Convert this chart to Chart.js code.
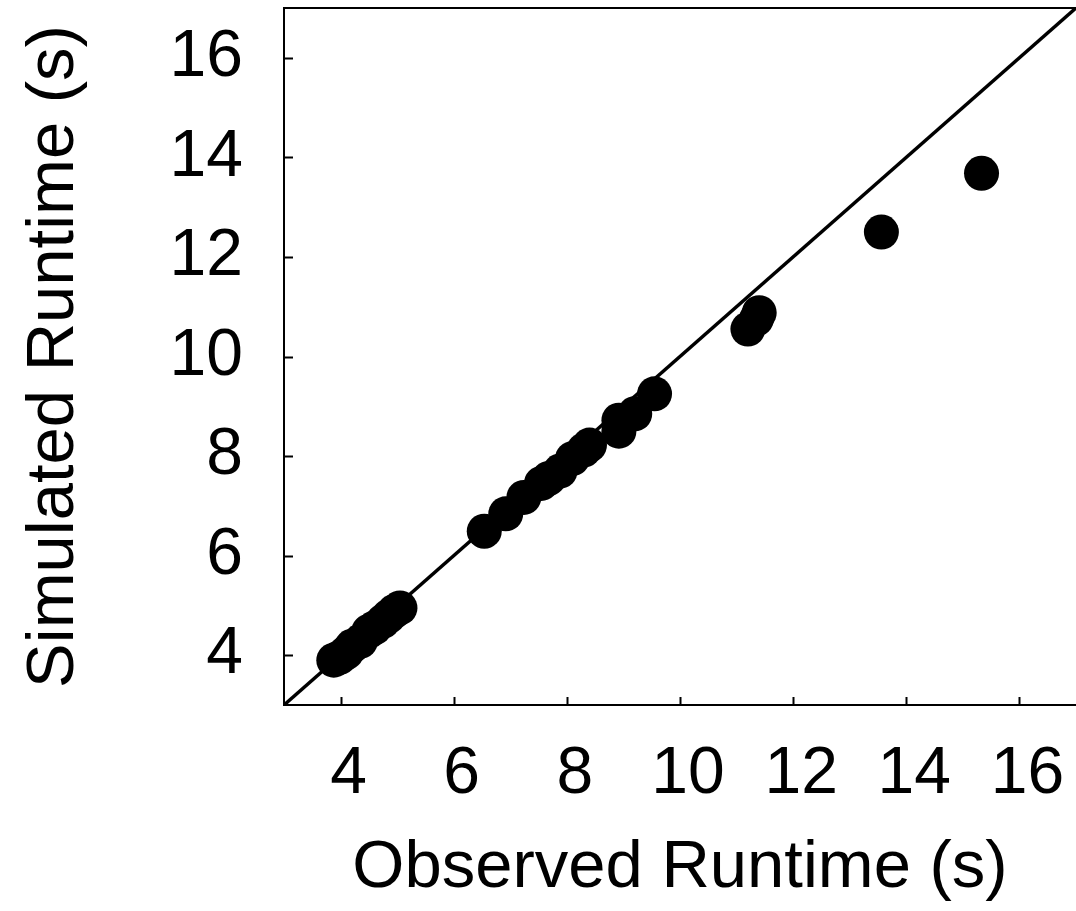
<!DOCTYPE html>
<html>
<head>
<meta charset="utf-8">
<script src="https://cdn.jsdelivr.net/npm/chart.js@4/dist/chart.umd.min.js"></script>
<style>
    html, body { margin: 0; padding: 0; background: #fff; }
    #wrap { width: 1076px; height: 911px; position: relative; }
</style>
</head>
<body>
<div id="wrap"><canvas id="runtimeChart"></canvas></div>
<script>
// observed vs simulated runtime (s)
const observed = [3.88, 3.98, 4.1, 4.2, 4.35, 4.5, 4.6, 4.75, 4.85, 4.95, 5.05,
    6.54, 6.92, 7.24, 7.55, 7.68, 7.88, 8.1, 8.3, 8.4, 8.92, 8.92, 9.2, 9.55,
    11.2, 11.35, 11.4, 13.56, 15.33];
const simulated = [3.9, 3.95, 4.05, 4.18, 4.28, 4.48, 4.55, 4.68, 4.78, 4.88, 4.95,
    6.49, 6.84, 7.17, 7.45, 7.55, 7.7, 7.95, 8.12, 8.22, 8.5, 8.72, 8.85, 9.25,
    10.55, 10.75, 10.88, 12.5, 13.68];
const identityLine = [3, 17];
const xTicks = [4, 6, 8, 10, 12, 14, 16];
const yTicks = [4, 6, 8, 10, 12, 14, 16];

document.addEventListener("DOMContentLoaded", function () {
    const canvas = document.getElementById("runtimeChart");
    const fontFamily = "'Liberation Sans', Arial, Helvetica, sans-serif";

    const points = observed.map((x, i) => ({ x: x, y: simulated[i] }));
    const diag = identityLine.map(v => ({ x: v, y: v }));

    // inward tick marks, like the original plot
    const innerTicks = {
        id: "innerTicks",
        afterDraw(chart) {
            const ctx = chart.ctx;
            const xs = chart.scales.x;
            const ys = chart.scales.y;
            const area = chart.chartArea;
            ctx.save();
            ctx.strokeStyle = "#000";
            ctx.lineWidth = 2;
            ctx.beginPath();
            xTicks.forEach(v => {
                const px = Math.round(xs.getPixelForValue(v)) + 0.5;
                ctx.moveTo(px, area.bottom);
                ctx.lineTo(px, area.bottom - 8);
            });
            yTicks.forEach(v => {
                const py = Math.round(ys.getPixelForValue(v)) + 0.5;
                ctx.moveTo(area.left, py);
                ctx.lineTo(area.left + 9, py);
            });
            ctx.stroke();
            ctx.restore();
        }
    };

    // no label overhang padding, so the plot box sits where it does in the original
    function noPadding(s) {
        s.paddingLeft = 0;
        s.paddingRight = 0;
        s.paddingTop = 0;
        s.paddingBottom = 0;
    }

    new Chart(canvas, {
        type: "scatter",
        data: {
            datasets: [
                {
                    label: "Runs",
                    data: points,
                    backgroundColor: "#000",
                    borderWidth: 0,
                    pointRadius: 17.5,
                    pointHoverRadius: 17.5,
                    order: 1
                },
                {
                    type: "line",
                    label: "y = x",
                    data: diag,
                    borderColor: "#000",
                    borderWidth: 3.5,
                    pointRadius: 0,
                    fill: false,
                    order: 2
                }
            ]
        },
        options: {
            responsive: true,
            maintainAspectRatio: false,
            animation: false,
            layout: {
                autoPadding: false,
                padding: { top: 8, right: 0, left: 0, bottom: 0 }
            },
            plugins: {
                legend: { display: false },
                tooltip: { enabled: false }
            },
            scales: {
                x: {
                    type: "linear",
                    position: "bottom",
                    min: 3,
                    max: 17,
                    afterBuildTicks: s => { s.ticks = xTicks.map(v => ({ value: v })); },
                    afterFit: s => { s.height = 206; noPadding(s); },
                    grid: { display: false },
                    border: { display: true, color: "#000", width: 2 },
                    ticks: {
                        color: "#000",
                        padding: 22,
                        labelOffset: 8,
                        maxRotation: 0,
                        font: { family: fontFamily, size: 66 }
                    },
                    title: {
                        display: true,
                        text: "Observed Runtime (s)",
                        color: "#000",
                        padding: { top: 0, bottom: 2 },
                        font: { family: fontFamily, size: 67 }
                    }
                },
                xTop: {
                    type: "linear",
                    position: "top",
                    min: 3,
                    max: 17,
                    afterFit: s => { s.height = 0; noPadding(s); },
                    grid: { display: false },
                    border: { display: true, color: "#000", width: 2 },
                    ticks: { display: false }
                },
                y: {
                    type: "linear",
                    position: "left",
                    min: 3,
                    max: 17,
                    afterBuildTicks: s => { s.ticks = yTicks.map(v => ({ value: v })); },
                    afterFit: s => { s.width = 284; noPadding(s); },
                    grid: { display: false },
                    border: { display: true, color: "#000", width: 2 },
                    ticks: {
                        color: "#000",
                        padding: 33,
                        font: { family: fontFamily, size: 66 }
                    },
                    title: {
                        display: true,
                        text: "Simulated Runtime (s)",
                        color: "#000",
                        padding: { top: 14, bottom: 0 },
                        font: { family: fontFamily, size: 67 }
                    }
                }
            }
        },
        plugins: [innerTicks]
    });
});
</script>
</body>
</html>
